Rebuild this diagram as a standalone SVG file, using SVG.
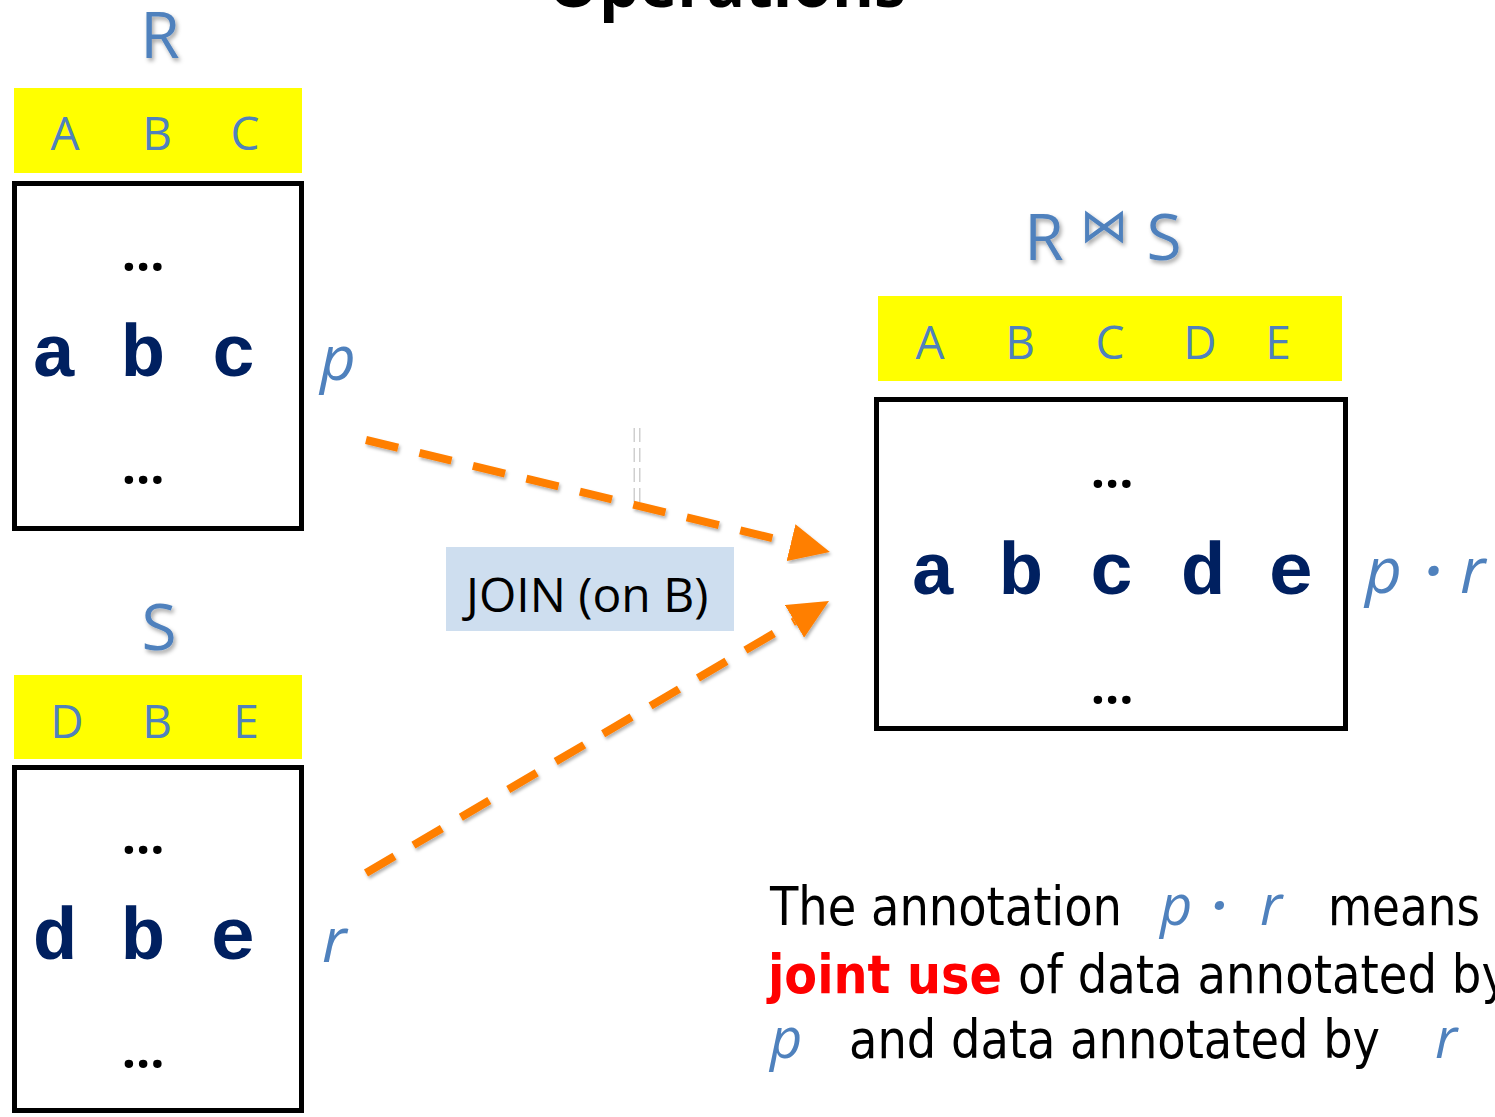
<svg xmlns="http://www.w3.org/2000/svg" width="1495" height="1117" viewBox="0 0 1495 1117">
  <defs>
    <filter id="soft" x="-20%" y="-20%" width="140%" height="160%">
      <feDropShadow dx="2" dy="3" stdDeviation="2" flood-color="#000" flood-opacity="0.35"/>
    </filter>
    <filter id="arrowShadow" x="-10%" y="-20%" width="120%" height="140%">
      <feDropShadow dx="1.5" dy="2.5" stdDeviation="1.5" flood-color="#000" flood-opacity="0.3"/>
    </filter>
    <marker id="head" markerUnits="userSpaceOnUse" viewBox="0 0 40 38" markerWidth="40" markerHeight="38" refX="0" refY="19" orient="auto">
      <path d="M0,0 L40,19 L0,38 Z" fill="#FF7F00"/>
    </marker>
    <style>
      .title { font-family: "Open Sans", "Liberation Sans", sans-serif; font-weight: bold; font-size: 64px; fill: #000; }
      .rel { font-family: "Open Sans", "Liberation Sans", sans-serif; font-size: 64px; fill: #4F81BD; text-anchor: middle; }
      .hdr { fill: #FFFF00; }
      .col { font-family: "Open Sans", "Liberation Sans", sans-serif; font-size: 46px; fill: #4F81BD; text-anchor: middle; }
      .box { fill: #fff; stroke: #000; stroke-width: 5; }
      .val { font-family: "Liberation Mono", "Courier New", monospace; font-weight: bold; font-size: 75px; fill: #002060; text-anchor: middle; }
      .dots { font-family: "Open Sans", "Liberation Sans", sans-serif; font-weight: bold; font-size: 50px; fill: #000; text-anchor: middle; }
      .ann { font-family: "Open Sans", "Liberation Sans", sans-serif; font-style: italic; fill: #4F81BD; }
      .body { font-family: "DejaVu Sans Condensed", "DejaVu Sans", sans-serif; font-stretch: condensed; font-size: 54px; fill: #000; }
      .hot { font-family: "DejaVu Sans Condensed", "DejaVu Sans", sans-serif; font-stretch: condensed; font-weight: bold; font-size: 54px; fill: #FF0000; }
      .flow { fill: none; stroke: #FF7F00; stroke-width: 8; stroke-dasharray: 33 22; }
    </style>
  </defs>

  <rect width="1495" height="1117" fill="#fff"/>

  <!-- slide title, mostly above the top edge -->
  <text class="title" x="727" y="7" text-anchor="middle">Operations</text>

  <!-- relation R -->
  <g id="relation-R">
    <text class="rel" x="160" y="58" filter="url(#soft)">R</text>
    <rect class="hdr" x="14" y="88" width="288" height="85"/>
    <text class="col" x="65" y="150">A</text>
    <text class="col" x="157" y="150">B</text>
    <text class="col" x="245" y="150">C</text>
    <rect class="box" x="14.5" y="183.5" width="287" height="345"/>
    <text class="dots" x="143" y="271">…</text>
    <text class="val" x="54" y="376">a</text>
    <text class="val" x="143" y="376">b</text>
    <text class="val" x="234" y="376">c</text>
    <text class="dots" x="143" y="484">…</text>
    <text class="ann" x="320" y="380" font-size="62">p</text>
  </g>

  <!-- relation S -->
  <g id="relation-S">
    <text class="rel" x="159" y="650" filter="url(#soft)">S</text>
    <rect class="hdr" x="14" y="675" width="288" height="84"/>
    <text class="col" x="67" y="738">D</text>
    <text class="col" x="157" y="738">B</text>
    <text class="col" x="246" y="738">E</text>
    <rect class="box" x="14.5" y="767.5" width="287" height="343"/>
    <text class="dots" x="143" y="854">…</text>
    <text class="val" x="55" y="959">d</text>
    <text class="val" x="143" y="959">b</text>
    <text class="val" x="233" y="959">e</text>
    <text class="dots" x="143" y="1068">…</text>
    <text class="ann" x="322" y="962" font-size="62">r</text>
  </g>

  <!-- join result -->
  <g id="result-RS">
    <text class="rel" x="1044" y="260" filter="url(#soft)">R</text>
    <text x="1104" y="242" font-family="DejaVu Sans, sans-serif" font-size="48" fill="#4F81BD" text-anchor="middle" filter="url(#soft)">⋈</text>
    <text class="rel" x="1164" y="260" filter="url(#soft)">S</text>
    <rect class="hdr" x="878" y="296" width="464" height="85"/>
    <text class="col" x="930" y="359">A</text>
    <text class="col" x="1020" y="359">B</text>
    <text class="col" x="1110" y="359">C</text>
    <text class="col" x="1200" y="359">D</text>
    <text class="col" x="1278" y="359">E</text>
    <rect class="box" x="876.5" y="399.5" width="469" height="329"/>
    <text class="dots" x="1112" y="488">…</text>
    <text class="val" x="933" y="594">a</text>
    <text class="val" x="1021" y="594">b</text>
    <text class="val" x="1112" y="594">c</text>
    <text class="val" x="1203" y="594">d</text>
    <text class="val" x="1291" y="594">e</text>
    <text class="dots" x="1112" y="704">…</text>
    <text class="ann" x="1365" y="593" font-size="64">p</text>
    <text class="ann" x="1433" y="593" font-size="60" font-weight="bold" text-anchor="middle">·</text>
    <text class="ann" x="1460" y="593" font-size="64">r</text>
  </g>

  <!-- operator label -->
  <g id="join-label">
    <rect x="446" y="547" width="288" height="84" fill="#CEDEEF"/>
    <text x="466" y="612" font-family="Open Sans, Liberation Sans, sans-serif" font-size="48" fill="#000">JOIN (on B)</text>
  </g>

  <!-- connectors -->
  <g id="connectors">
    <line x1="637" y1="428" x2="637" y2="506" stroke="#cfcfcf" stroke-width="7" stroke-dasharray="14 6"/>
    <line x1="637" y1="428" x2="637" y2="506" stroke="#fff" stroke-width="4" stroke-dasharray="14 6"/>
    <path class="flow" d="M366,440 L791,542.6" marker-end="url(#head)" filter="url(#arrowShadow)"/>
    <path class="flow" d="M366,873 L794.5,621.3" marker-end="url(#head)" filter="url(#arrowShadow)"/>
  </g>

  <!-- explanation -->
  <g id="note">
    <text class="body" x="770" y="925" textLength="352" lengthAdjust="spacingAndGlyphs">The annotation</text>
    <text class="ann" x="1160" y="925" font-size="56">p</text>
    <text class="ann" x="1219" y="925" font-size="54" font-weight="bold" text-anchor="middle">·</text>
    <text class="ann" x="1260" y="925" font-size="56">r</text>
    <text class="body" x="1328" y="925" textLength="152" lengthAdjust="spacingAndGlyphs">means</text>
    <text class="hot" x="768" y="993" textLength="234" lengthAdjust="spacingAndGlyphs">joint use</text>
    <text class="body" x="1018" y="993" textLength="491" lengthAdjust="spacingAndGlyphs">of data annotated by</text>
    <text class="ann" x="770" y="1058" font-size="56">p</text>
    <text class="body" x="849" y="1058" textLength="531" lengthAdjust="spacingAndGlyphs">and data annotated by</text>
    <text class="ann" x="1435" y="1058" font-size="56">r</text>
  </g>
</svg>
